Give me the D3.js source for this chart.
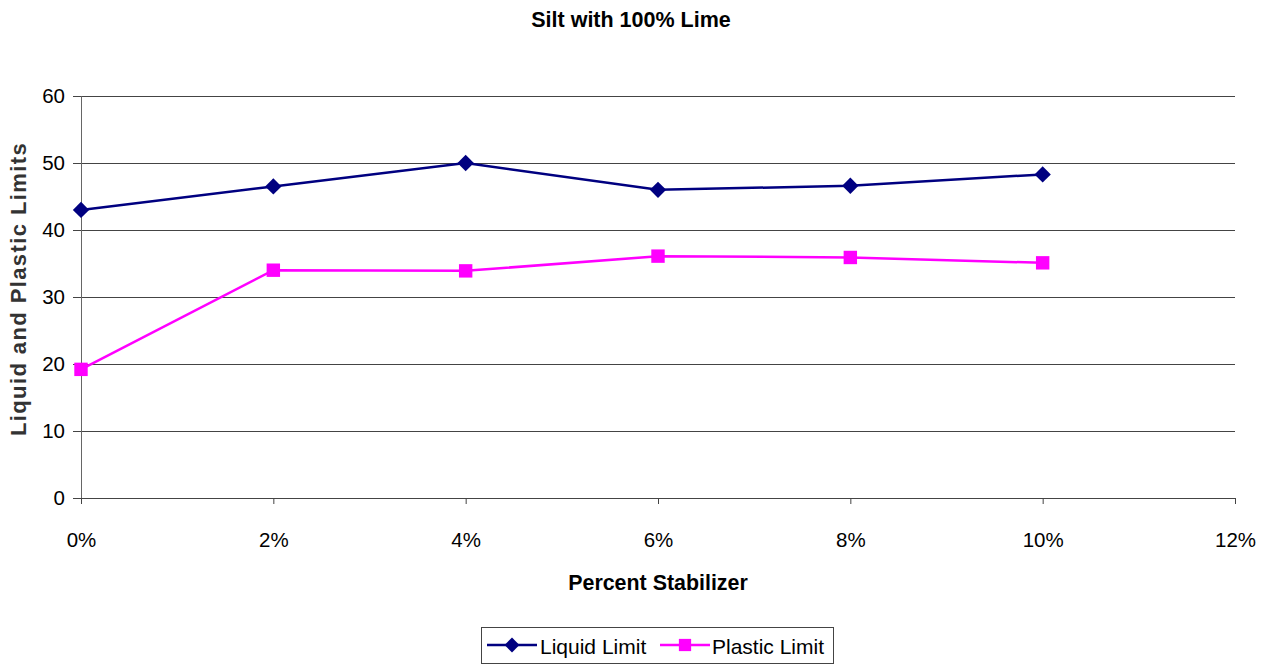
<!DOCTYPE html>
<html>
<head>
<meta charset="utf-8">
<script src="https://cdn.jsdelivr.net/npm/d3@7"></script>
<style>
  html, body { margin: 0; padding: 0; background: #fff; }
  svg { display: block; font-family: "Liberation Sans", Arial, sans-serif; }
</style>
</head>
<body>
<svg id="chart" width="1273" height="667"></svg>
<script>
// Percent stabilizer (lime) added to the silt
const stabilizer = [0, 2, 4, 6, 8, 10];
const liquidLimit = [43.0, 46.5, 50.0, 46.0, 46.6, 48.3];
const plasticLimit = [19.2, 34.0, 33.9, 36.1, 35.9, 35.1];
const xTicks = [0, 2, 4, 6, 8, 10, 12];
const yTicks = [0, 10, 20, 30, 40, 50, 60];

const seriesList = [
  { name: "Liquid Limit", values: liquidLimit, color: "#000080", symbol: d3.symbolDiamond2 },
  { name: "Plastic Limit", values: plasticLimit, color: "#FF00FF", symbol: d3.symbolSquare }
];

const svg = d3.select("#chart");
const plotLeft = 81, plotRight = 1235, plotTop = 96, plotBottom = 498;

const x = d3.scaleLinear().domain([0, 12]).range([plotLeft, plotRight]);
const y = d3.scaleLinear().domain([0, 60]).range([plotBottom, plotTop]);

// Title
svg.append("text")
  .attr("x", 631).attr("y", 27)
  .attr("text-anchor", "middle")
  .style("font-weight", "bold").style("font-size", "21.5px")
  .text("Silt with 100% Lime");

// Horizontal gridlines
svg.append("g").selectAll("line").data(yTicks.filter(d => d > 0)).join("line")
  .attr("x1", plotLeft).attr("x2", plotRight)
  .attr("y1", d => Math.round(y(d)) + 0.5).attr("y2", d => Math.round(y(d)) + 0.5)
  .attr("stroke", "#444").attr("stroke-width", 1);

// Y axis
const yAxis = svg.append("g")
  .attr("transform", `translate(${plotLeft},0)`)
  .call(d3.axisLeft(y).tickValues(yTicks).tickSize(8).tickPadding(8).tickFormat(d3.format("d")));
yAxis.select(".domain").attr("stroke", "#666");
yAxis.selectAll(".tick line").attr("stroke", "#444");
yAxis.selectAll("text").style("font-size", "20.5px").attr("fill", "#000")
  .style("font-family", "'Liberation Sans', Arial, sans-serif");

// X axis
const xAxis = svg.append("g")
  .attr("transform", `translate(0,${plotBottom})`)
  .call(d3.axisBottom(x).tickValues(xTicks).tickSizeOuter(0).tickSize(6).tickPadding(28)
    .tickFormat(d => d + "%"));
xAxis.select(".domain").attr("stroke", "#444");
xAxis.selectAll(".tick line").attr("stroke", "#444");
xAxis.selectAll("text").style("font-size", "20.5px").attr("fill", "#000")
  .style("font-family", "'Liberation Sans', Arial, sans-serif");

// Axis titles
svg.append("text")
  .attr("x", 658).attr("y", 590)
  .attr("text-anchor", "middle")
  .style("font-weight", "bold").style("font-size", "21.4px")
  .text("Percent Stabilizer");

svg.append("text")
  .attr("transform", "translate(26,289) rotate(-90)")
  .attr("text-anchor", "middle")
  .style("font-weight", "bold").style("font-size", "22px")
  .style("letter-spacing", "1.4px")
  .attr("fill", "#333")
  .text("Liquid and Plastic Limits");

// Series lines and markers
const line = d3.line().x((d, i) => x(stabilizer[i])).y(d => y(d));
seriesList.forEach(s => {
  svg.append("path")
    .datum(s.values)
    .attr("d", line)
    .attr("fill", "none")
    .attr("stroke", s.color)
    .attr("stroke-width", 2.5);
  svg.append("g").selectAll("path").data(s.values).join("path")
    .attr("transform", (d, i) => `translate(${x(stabilizer[i])},${y(d)})`)
    .attr("d", d3.symbol().type(s.symbol).size(s.symbol === d3.symbolSquare ? 180 : 170))
    .attr("fill", s.color);
});

// Legend
const legend = svg.append("g");
legend.append("rect")
  .attr("x", 481.5).attr("y", 627.5).attr("width", 352).attr("height", 36)
  .attr("fill", "#fff").attr("stroke", "#444").attr("stroke-width", 1);
const legendPos = [{ x0: 487, tx: 540 }, { x0: 660, tx: 712 }];
seriesList.forEach((s, i) => {
  const p = legendPos[i];
  const g = legend.append("g");
  g.append("line")
    .attr("x1", p.x0).attr("x2", p.x0 + 50).attr("y1", 645).attr("y2", 645)
    .attr("stroke", s.color).attr("stroke-width", 2.5);
  g.append("path")
    .attr("transform", `translate(${p.x0 + 25},645)`)
    .attr("d", d3.symbol().type(s.symbol).size(s.symbol === d3.symbolSquare ? 150 : 140))
    .attr("fill", s.color);
  g.append("text")
    .attr("x", p.tx).attr("y", 654)
    .style("font-size", "21px")
    .text(s.name);
});
</script>
</body>
</html>
